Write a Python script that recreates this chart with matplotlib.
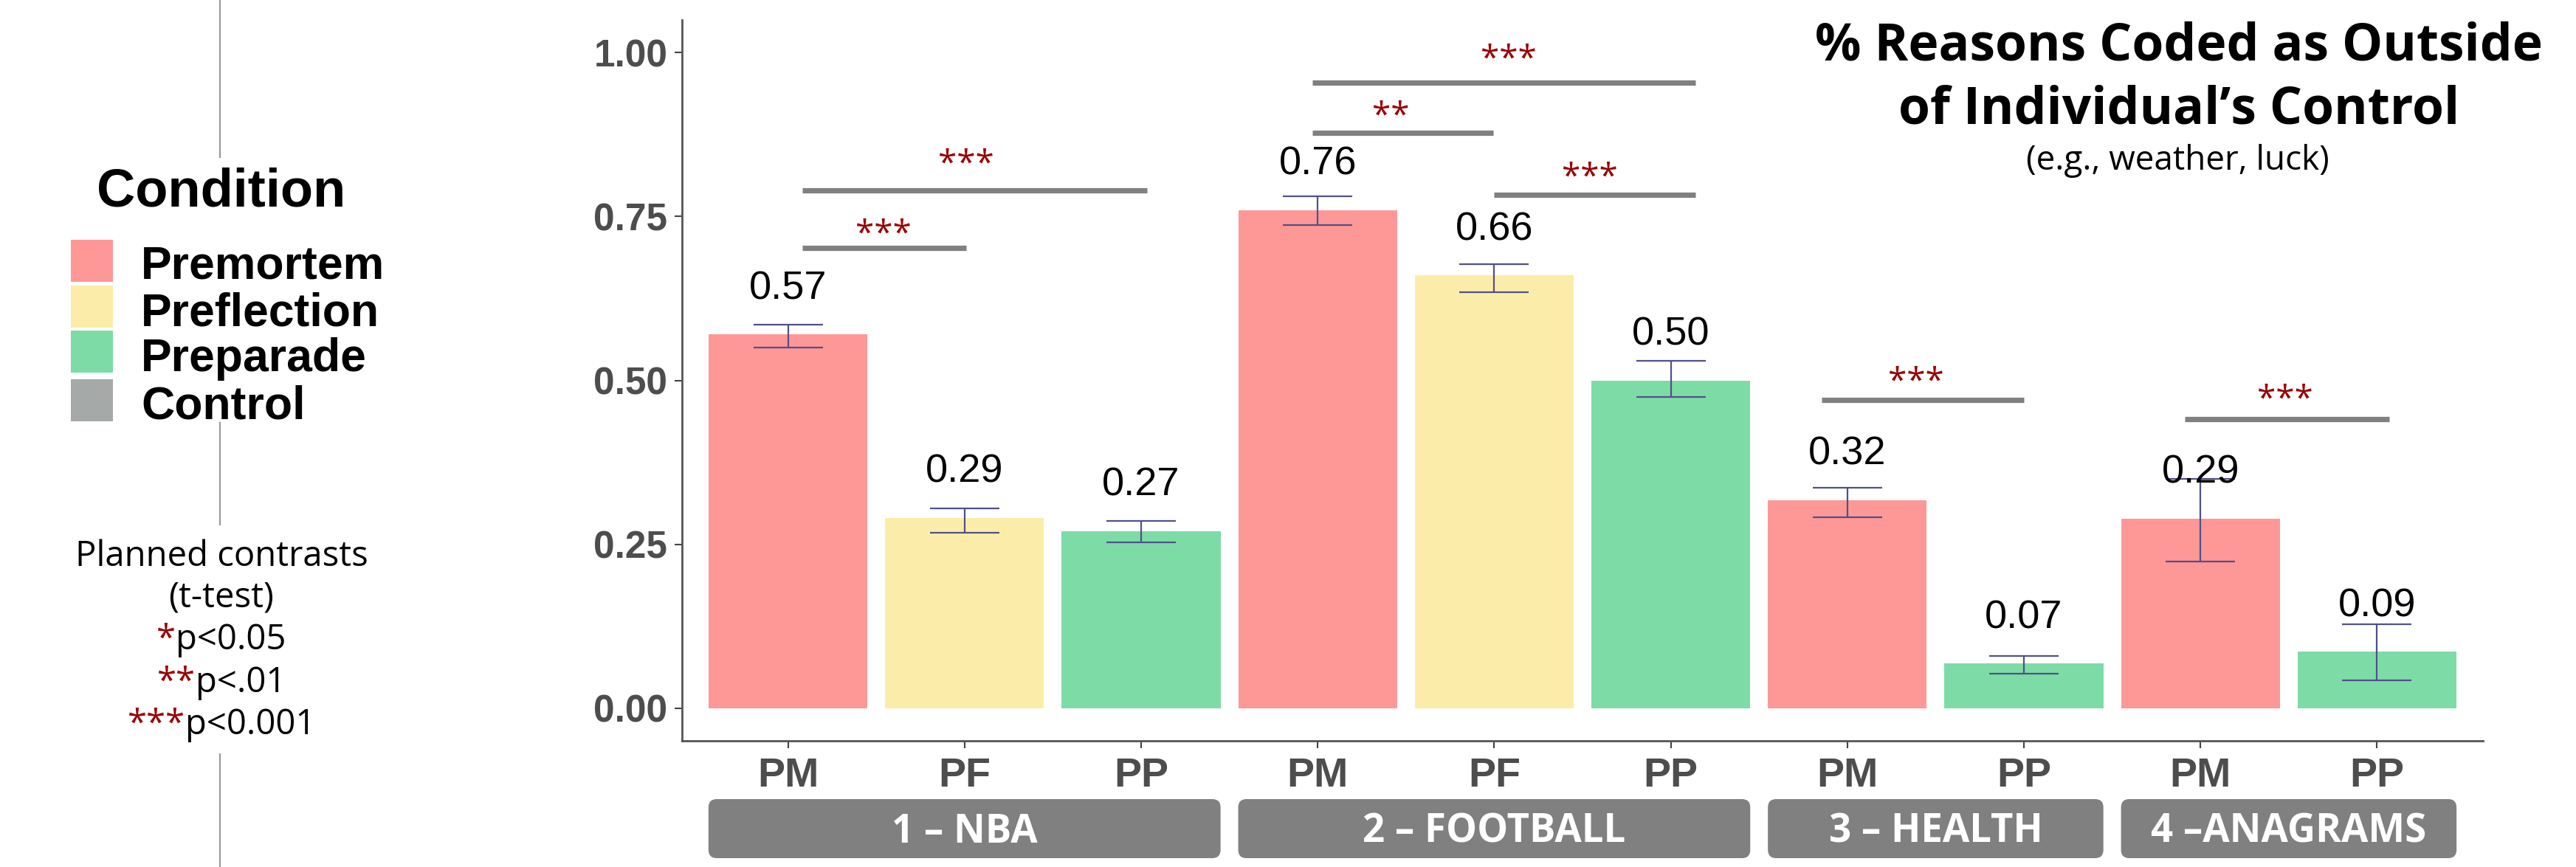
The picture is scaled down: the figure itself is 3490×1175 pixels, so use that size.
import matplotlib
matplotlib.use("Agg")
import matplotlib.pyplot as plt
from matplotlib.patches import Rectangle, FancyBboxPatch
from matplotlib.lines import Line2D
from matplotlib.transforms import IdentityTransform
import numpy as np

# ---------------- data ----------------
groups = ["1 – NBA", "2 – FOOTBALL", "3 – HEALTH", "4 –ANAGRAMS"]
group_sizes = [3, 3, 2, 2]
bar_labels = ["PM", "PF", "PP", "PM", "PF", "PP", "PM", "PP", "PM", "PP"]
bar_conditions = ["Premortem", "Preflection", "Preparade",
                  "Premortem", "Preflection", "Preparade",
                  "Premortem", "Preparade",
                  "Premortem", "Preparade"]
values = [0.57, 0.29, 0.27, 0.76, 0.66, 0.50, 0.317, 0.068, 0.289, 0.086]
err_low = [0.550, 0.267, 0.253, 0.737, 0.635, 0.475, 0.291, 0.053, 0.224, 0.042]
err_high = [0.585, 0.305, 0.285, 0.781, 0.677, 0.530, 0.336, 0.080, 0.350, 0.128]

legend_items = ["Premortem", "Preflection", "Preparade", "Control"]
cond_colors = {"Premortem": "#FE9897", "Preflection": "#FBEDA9",
               "Preparade": "#7DDCA6", "Control": "#A5A9A8"}

# significance brackets: start x, end x, y, label, star position
sig_x0 = [1.08, 1.08, 3.97, 3.97, 5.00, 6.855, 8.91]
sig_x1 = [2.01, 3.035, 4.995, 6.14, 6.14, 8.00, 10.07]
sig_y = [0.7025, 0.790, 0.878, 0.954, 0.783, 0.470, 0.441]
sig_labels = ["***", "***", "**", "***", "***", "***", "***"]
sig_star_x = [1.54, 2.01, 4.415, 5.08, 5.54, 7.39, 9.48]
sig_star_y = [0.722, 0.829, 0.902, 0.988, 0.808, 0.497, 0.469]

yticks = [0.00, 0.25, 0.50, 0.75, 1.00]

title_lines = ["% Reasons Coded as Outside", "of Individual\u2019s Control"]
subtitle = "(e.g., weather, luck)"
contrast_lines = [("", "Planned contrasts"), ("", "(t-test)"),
                  ("*", "p<0.05"), ("**", "p<.01"), ("***", "p<0.001")]

# ---------------- figure ----------------
W, H = 3491, 1175
fig = plt.figure(figsize=(W / 100, H / 100), dpi=100)
fig.patch.set_facecolor("white")


def fx(px):
    return px / W


def fy(py):
    return 1 - py / H


ax = fig.add_axes([fx(924), fy(1004), fx(3364) - fx(924), fy(27) - fy(1004)])
ax.set_xlim(0.4, 10.6)
ax.set_ylim(-0.05, 1.05)

x = np.arange(1, len(values) + 1)
vals = np.array(values)
ax.bar(x, vals, width=0.9, color=[cond_colors[c] for c in bar_conditions],
       zorder=2, linewidth=0)
ax.errorbar(x, vals, yerr=[vals - np.array(err_low), np.array(err_high) - vals],
            fmt="none", ecolor="#50508A", elinewidth=1.6, capsize=34,
            capthick=1.6, zorder=3)

for xi, v in zip(x, vals):
    ax.text(xi, v + 0.07, f"{v:.2f}", ha="center", va="center", fontsize=39,
            family="Liberation Sans", color="black", zorder=4)

for x0, x1, yy, lab, sx, sy in zip(sig_x0, sig_x1, sig_y, sig_labels,
                                   sig_star_x, sig_star_y):
    ax.plot([x0, x1], [yy, yy], color="#808080", lw=5.2,
            solid_capstyle="butt", zorder=4)
    ax.text(sx, sy, lab, ha="center", va="center", fontsize=33,
            family="Open Sans", color="#990000", zorder=5)

# axes styling
for s in ["top", "right"]:
    ax.spines[s].set_visible(False)
for s in ["left", "bottom"]:
    ax.spines[s].set_color("#555555")
    ax.spines[s].set_linewidth(2.0)
ax.set_yticks(yticks)
ax.set_yticklabels([f"{t:.2f}" for t in yticks])
ax.set_xticks(x)
ax.set_xticklabels(bar_labels)
ax.tick_params(axis="both", length=7.2, width=1.5, color="#444444")
ax.tick_params(axis="y", pad=7)
ax.tick_params(axis="x", pad=9)
for lbl in ax.get_yticklabels():
    lbl.set_fontsize(37)
    lbl.set_fontweight("bold")
    lbl.set_family("Liberation Sans")
    lbl.set_color("#4D4D4D")
for lbl in ax.get_xticklabels():
    lbl.set_fontsize(40)
    lbl.set_fontweight("bold")
    lbl.set_family("Liberation Sans")
    lbl.set_color("#4D4D4D")

# facet-like strips under the axis
start = 1
for g, n in zip(groups, group_sizes):
    first, last = start, start + n - 1
    start += n
    xl = ax.transData.transform((first - 0.45, 0))[0]
    xr = ax.transData.transform((last + 0.45, 0))[0]
    y_top, y_bot = 1083, 1163
    patch = FancyBboxPatch((xl, H - y_bot), xr - xl, y_bot - y_top,
                           boxstyle="round,pad=0,rounding_size=11",
                           transform=IdentityTransform(), fc="#808080",
                           ec="none")
    fig.add_artist(patch)
    fig.text(fx((xl + xr) / 2), fy(1142), g, ha="center", va="baseline",
             fontsize=38, family="Open Sans", fontweight="bold", color="white")

# title
fig.text(fx(2952), fy(82), title_lines[0], ha="center", va="baseline",
         fontsize=50, family="Open Sans", fontweight="bold", color="black")
fig.text(fx(2952), fy(167), title_lines[1], ha="center", va="baseline",
         fontsize=50, family="Open Sans", fontweight="bold", color="black")
fig.text(fx(2950), fy(230), subtitle, ha="center", va="baseline",
         fontsize=33, family="Open Sans", color="black")

# left panel: vertical divider line
for y0, y1 in [(0, 213), (573, 711), (1022, 1175)]:
    fig.add_artist(Line2D([fx(298), fx(298)], [fy(y0), fy(y1)],
                          transform=fig.transFigure, color="#9A9A9A", lw=1.6))

# legend
fig.text(fx(300), fy(280), "Condition", ha="center", va="baseline",
         fontsize=52, family="Liberation Sans", fontweight="bold", color="black")
key_tops = [325, 387, 448, 514]
key_bases = [378, 442, 503, 567]
for item, kt, kb in zip(legend_items, key_tops, key_bases):
    fig.add_artist(Rectangle((96, H - (kt + 57)), 57, 57,
                             transform=IdentityTransform(),
                             fc=cond_colors[item], ec="none"))
    fig.text(fx(191), fy(kb), item, ha="left", va="baseline", fontsize=45,
             family="Liberation Sans", fontweight="bold", color="black")

# planned contrasts text
renderer = fig.canvas.get_renderer()
bases = [767, 823, 880, 938, 995]
for (stars, rest), b in zip(contrast_lines, bases):
    ts = fig.text(0, 0, stars if stars else " ", fontsize=34, family="Open Sans")
    tr = fig.text(0, 0, rest, fontsize=34, family="Open Sans")
    ws = ts.get_window_extent(renderer).width if stars else 0.0
    wr = tr.get_window_extent(renderer).width
    ts.remove()
    tr.remove()
    left = 300 - (ws + wr) / 2
    if stars:
        fig.text(fx(left), fy(b), stars, ha="left", va="baseline", fontsize=34,
                 family="Open Sans", color="#990000")
    fig.text(fx(left + ws), fy(b), rest, ha="left", va="baseline", fontsize=34,
             family="Open Sans", color="black")

fig.savefig("out.png", dpi=100, facecolor="white")
